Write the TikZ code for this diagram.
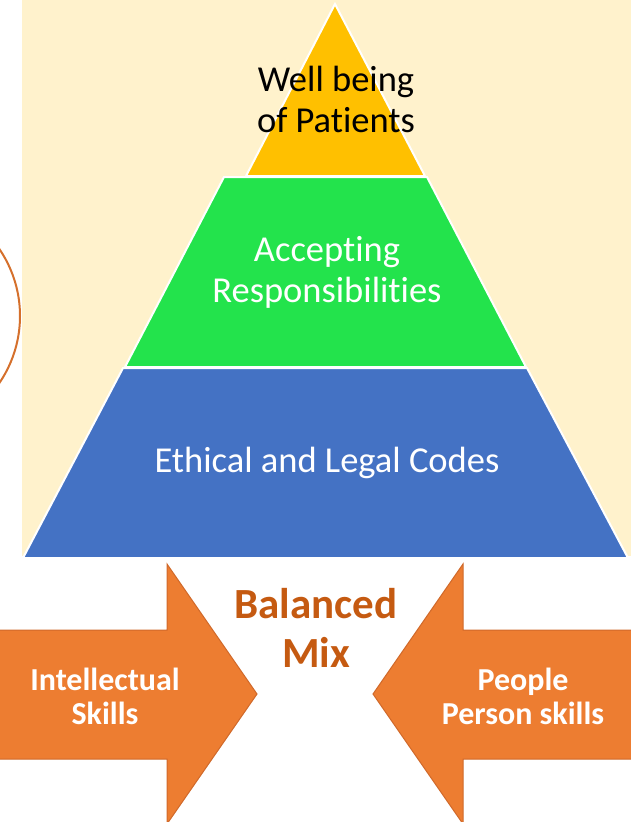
\documentclass[tikz,border=0pt]{standalone}
\usepackage{fontspec}
\setmainfont[Ligatures=NoCommon]{Carlito}
\usepackage{tikz}
\usetikzlibrary{calc}
\definecolor{cream}{HTML}{FFF2CC}
\definecolor{gold}{HTML}{FFC000}
\definecolor{leaf}{HTML}{23E34C}
\definecolor{steel}{HTML}{4472C4}
\definecolor{arrowfill}{HTML}{ED7D31}
\definecolor{arrowline}{HTML}{D0692A}
\definecolor{mixtext}{HTML}{C55A11}
\begin{document}
\begin{tikzpicture}[x=1pt,y=-1pt,
    tier/.style={draw=white, line width=2pt},
    tiertext/.style={align=center, font=\fontsize{36.5}{41}\selectfont, text=white},
    bigarrow/.style={fill=arrowfill, draw=arrowline, line width=1pt},
    arrowtext/.style={align=center, font=\fontsize{32}{34}\selectfont\bfseries, text=white}]
    \useasboundingbox (0,0) rectangle (631,822);
    \fill[cream] (22,0) rectangle (631,556);
    \draw[arrowfill!90!black, line width=2pt] (-99,316) circle[radius=119];
    \coordinate (apex) at (335,4);
    \coordinate (g1) at (246,176);
    \coordinate (g2) at (425,176);
    \coordinate (m1) at (224,177);
    \coordinate (m2) at (427,177);
    \coordinate (m3) at (526,367);
    \coordinate (m4) at (125,367);
    \coordinate (b1) at (123,368);
    \coordinate (b2) at (527,368);
    \coordinate (b3) at (628,558);
    \coordinate (b4) at (23,558);
    \filldraw[tier, fill=steel] (b1) -- (b2) -- (b3) -- (b4) -- cycle;
    \filldraw[tier, fill=leaf] (m1) -- (m2) -- (m3) -- (m4) -- cycle;
    \filldraw[tier, fill=gold] (apex) -- (g2) -- (g1) -- cycle;
    \node[tiertext, text=black] (wellbeing) at (336,99) {Well being\\of Patients};
    \node[tiertext] (accepting) at (327,272) {Accepting\\Responsibilities};
    \node[tiertext] (ethical) at (327,463) {Ethical and Legal Codes};
    \draw[bigarrow] (-2,630) -- (167,630) -- (167,564) -- (257,694) -- (167,824) -- (167,759) -- (-2,759) -- cycle;
    \draw[bigarrow] (633,630) -- (463,630) -- (463,564) -- (373,694) -- (463,824) -- (463,759) -- (633,759) -- cycle;
    \node[arrowtext] (intellectual) at (105,696) {Intellectual\\Skills};
    \node[arrowtext] (people) at (523,696) {People\\Person skills};
    \node[align=center, text=mixtext, font=\fontsize{43}{49}\selectfont\bfseries] (mix) at (316,628) {Balanced\\Mix};
\end{tikzpicture}
\end{document}
